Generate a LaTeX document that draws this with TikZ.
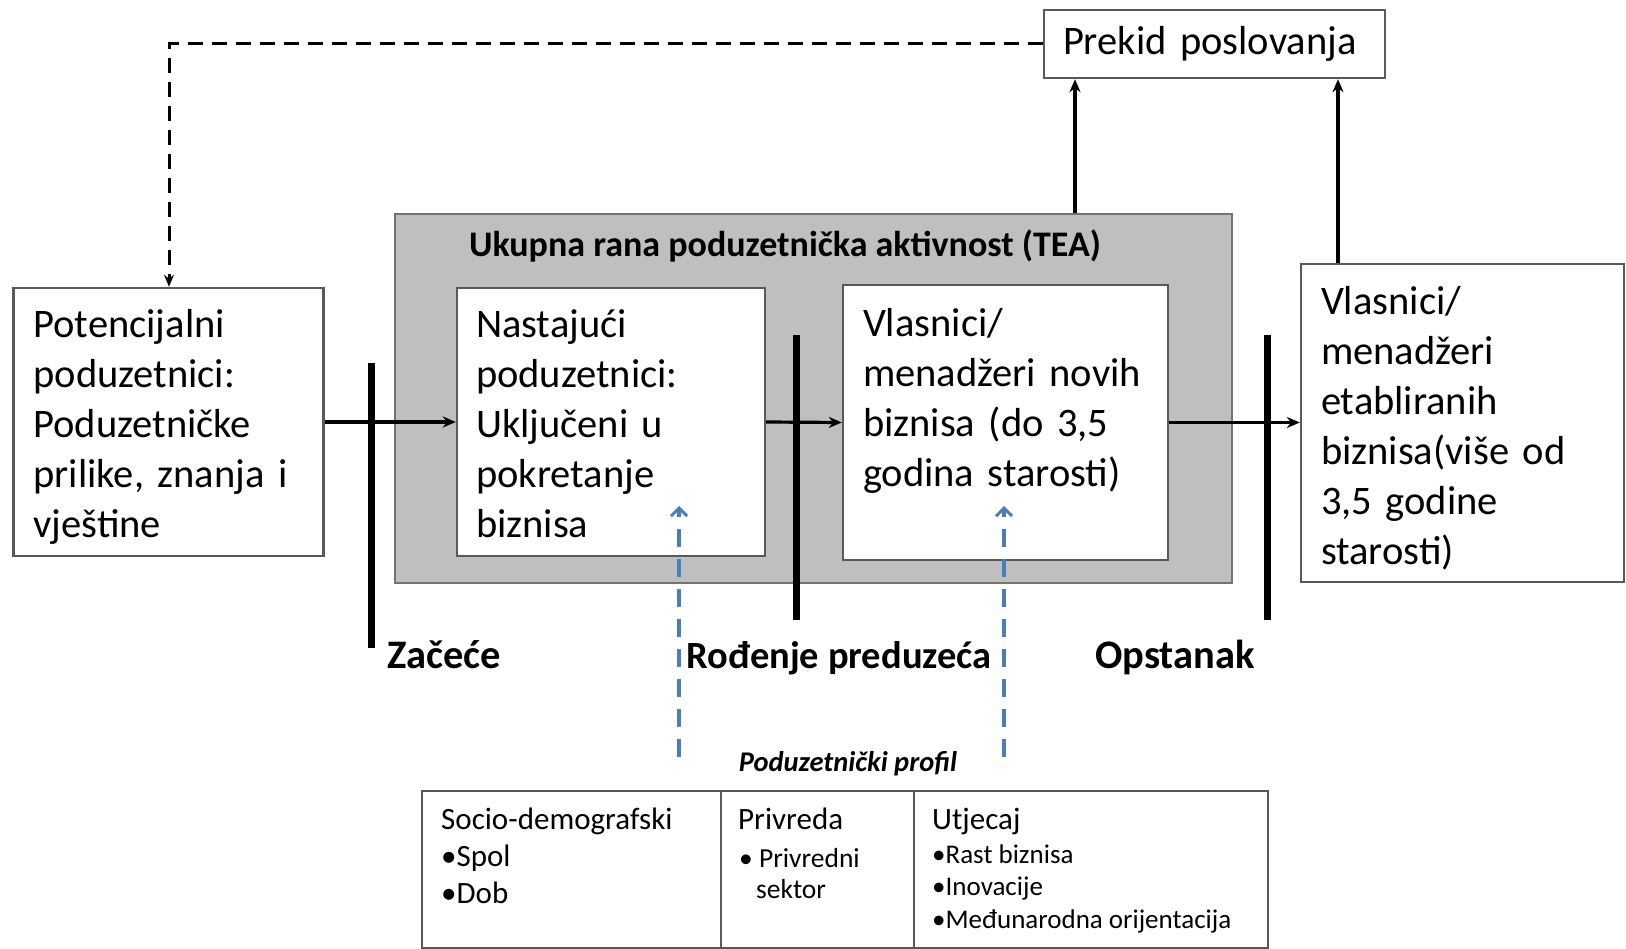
\documentclass[tikz,border=0pt]{standalone}
\usepackage{fontspec}
\setmainfont{Carlito}
\usetikzlibrary{arrows.meta,calc}
\definecolor{boxline}{HTML}{595959}
\definecolor{teafill}{HTML}{BFBFBF}
\definecolor{profblue}{HTML}{4A7EBB}
\begin{document}
\begin{tikzpicture}[x=1pt,y=-1pt,
  box/.style={draw=boxline, line width=2.4pt, fill=white, inner sep=0pt},
  boxtext/.style={inner xsep=20pt, inner ysep=0pt, align=left, font=\fontsize{40.5}{50}\selectfont},
  teabox/.style={draw=black!55, line width=2.2pt, fill=teafill, anchor=north west, inner sep=0pt},
  teatitle/.style={font=\bfseries\fontsize{36}{42}\selectfont, anchor=base, inner sep=0pt},
  arr/.style={line width=3.2pt, -{Stealth[length=13pt,width=11pt]}},
  fbarr/.style={line width=3pt, dash pattern=on 15pt off 9pt, -{Stealth[length=12pt,width=10pt]}},
  bluearr/.style={draw=profblue, line width=4pt, dash pattern=on 18pt off 12pt,
    -{Straight Barb[length=8pt,width=16pt,line width=3pt]}},
  bar/.style={line width=7pt},
  stage/.style={font=\bfseries\fontsize{39}{46}\selectfont, anchor=base, inner sep=0pt},
  proftitle/.style={font=\bfseries\itshape\fontsize{28.5}{32}\selectfont, anchor=base, inner sep=0pt},
  cell/.style={draw=boxline, line width=2.2pt, anchor=north west, inner sep=0pt, minimum height=157pt},
  chead/.style={font=\fontsize{31}{37}\selectfont, anchor=base west, inner sep=0pt},
  citem/.style={font=\fontsize{27}{32}\selectfont, anchor=base west, inner sep=0pt},
]
\useasboundingbox (0,0) rectangle (1626,949);
\fill[white] (0,0) rectangle (1626,949);

% TEA background box
\node[teabox, minimum width=837pt, minimum height=369pt] (tea) at (394,213) {};
\node[teatitle] (teat) at (785,257) {Ukupna rana poduzetnička aktivnost (TEA)};

% main boxes
\node[box, minimum width=310pt, minimum height=268pt] (pot) at (168.5,422) {};
\node[boxtext, text width=270pt] (pott) at ($(pot.center)+(0,5)$)
  {Potencijalni\\poduzetnici:\\Poduzetničke\\prilike, znanja i\\vještine};
\node[box, minimum width=308pt, minimum height=268pt] (nast) at (611,422) {};
\node[boxtext, text width=268pt] (nastt) at ($(nast.center)+(-1,2)$)
  {Nastajući\\poduzetnici:\\Uključeni u\\pokretanje\\biznisa};
\node[box, minimum width=325pt, minimum height=275pt] (vnov) at (1005.5,422.5) {};
\node[boxtext, text width=285pt] (vnovt) at ($(vnov.center)+(0,-22)$)
  {Vlasnici/\\menadžeri novih\\biznisa (do 3,5\\godina starosti)};
\node[box, minimum width=323pt, minimum height=318pt] (vetab) at (1462.5,423) {};
\node[boxtext, text width=283pt] (vetabt) at ($(vetab.center)+(0,5)$)
  {Vlasnici/\\menadžeri\\etabliranih\\biznisa(više od\\3,5 godine\\starosti)};
\node[box, minimum width=341pt, minimum height=68pt] (prekid) at (1214.5,44) {};
\node[boxtext, inner xsep=19pt, text width=303pt] (prekidt) at (prekid.center) {Prekid poslovanja};

% stage bars
\coordinate (b1t) at (371,363); \coordinate (b1b) at (371,648);
\coordinate (b2t) at (796,335); \coordinate (b2b) at (796,620);
\coordinate (b3t) at (1267,335); \coordinate (b3b) at (1267,620);

% flow arrows
\draw[arr] (pot.east) -- (nast.west);
\draw[arr] (nast.east) -- (vnov.west);
\draw[arr] (vnov.east) -- (vnov.east -| vetab.west);

\draw[bar] (b1t) -- (b1b);
\draw[bar] (b2t) -- (b2b);
\draw[bar] (b3t) -- (b3b);

% exits to Prekid
\coordinate (c1) at (1075,0);
\coordinate (c2) at (1338,0);
\draw[arr] (tea.north -| c1) -- (prekid.south -| c1);
\draw[arr] (vetab.north -| c2) -- (prekid.south -| c2);

% feedback dashed
\coordinate (d1) at (169,44);
\draw[fbarr] (prekid.west) -- (d1) -- (pot.north -| d1);

% stage labels
\node[stage, font=\bfseries\fontsize{40.5}{46}\selectfont] (zac) at (444,668) {Začeće};
\node[stage, font=\bfseries\fontsize{38.5}{46}\selectfont] (rod) at (839,668) {Rođenje preduzeća};
\node[stage, font=\bfseries\fontsize{40.5}{46}\selectfont] (ops) at (1175,668) {Opstanak};

% profile arrows
\coordinate (u1s) at (679,757); \coordinate (u1e) at (679,506);
\coordinate (u2s) at (1004,757); \coordinate (u2e) at (1004,506);
\draw[bluearr] (u1s) -- (u1e);
\draw[bluearr] (u2s) -- (u2e);

% profile table
\node[proftitle] (prof) at (848,771) {Poduzetnički profil};
\node[cell, minimum width=299pt] (cA) at (421,790) {};
\node[cell, minimum width=193pt] (cB) at (720,790) {};
\node[cell, minimum width=354pt] (cC) at (913,790) {};

\node[chead] (a1) at (441,829) {Socio-demografski};
\node[chead] (a2) at (441,866) {•Spol};
\node[chead] (a3) at (441,903) {•Dob};

\node[chead] (p1) at (738,829) {Privreda};
\node[citem, font=\fontsize{27.5}{32}\selectfont] (p2) at (739,867) {• Privredni};
\node[citem, font=\fontsize{27.5}{32}\selectfont] (p3) at (756,898) {sektor};

\node[chead] (u1) at (932,829) {Utjecaj};
\node[citem] (u2) at (932,863) {•Rast biznisa};
\node[citem] (u3) at (932,895) {•Inovacije};
\node[citem] (u4) at (932,928) {•Međunarodna orijentacija};
\end{tikzpicture}
\end{document}
